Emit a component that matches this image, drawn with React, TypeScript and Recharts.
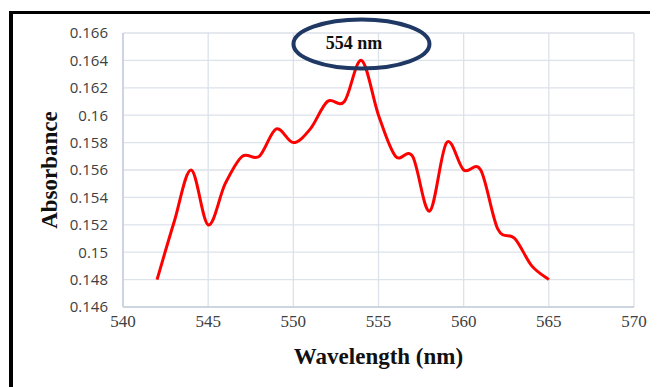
import { CartesianGrid, Label, Line, LineChart, ReferenceDot, XAxis, YAxis } from "recharts";

const wavelengths = [542, 543, 544, 545, 546, 547, 548, 549, 550, 551, 552, 553, 554, 555, 556, 557, 558, 559, 560, 561, 562, 563, 564, 565];
const absorbance = [0.148, 0.1522, 0.156, 0.152, 0.155, 0.157, 0.157, 0.159, 0.158, 0.159, 0.161, 0.161, 0.164, 0.16, 0.157, 0.157, 0.153, 0.158, 0.156, 0.156, 0.1517, 0.151, 0.149, 0.148];
const xTicks = [540, 545, 550, 555, 560, 565, 570];
const yTicks = [0.146, 0.148, 0.15, 0.152, 0.154, 0.156, 0.158, 0.16, 0.162, 0.164, 0.166];
const peakLabel = "554 nm";

const data = wavelengths.map((w, i) => ({ w, a: absorbance[i] }));

const SERIF = "'Liberation Serif', 'Times New Roman', serif";
const SANS = "'Open Sans', 'Noto Sans', sans-serif";

// Excel-style smoothed line (Catmull-Rom as cubic beziers)
const excelCurve = (context: any) => {
  let pts: number[][] = [];
  return {
    areaStart() {},
    areaEnd() {},
    lineStart() {
      pts = [];
    },
    point(x: number, y: number) {
      pts.push([+x, +y]);
    },
    lineEnd() {
      if (!pts.length) return;
      context.moveTo(pts[0][0], pts[0][1]);
      for (let i = 0; i < pts.length - 1; i++) {
        const p0 = pts[Math.max(i - 1, 0)];
        const p1 = pts[i];
        const p2 = pts[i + 1];
        const p3 = pts[Math.min(i + 2, pts.length - 1)];
        context.bezierCurveTo(
          p1[0] + (p2[0] - p0[0]) / 6,
          p1[1] + (p2[1] - p0[1]) / 6,
          p2[0] - (p3[0] - p1[0]) / 6,
          p2[1] - (p3[1] - p1[1]) / 6,
          p2[0],
          p2[1]
        );
      }
    },
  };
};

function PeakEllipse(props: any) {
  const { cx, cy } = props;
  return (
    <g>
      <ellipse cx={cx} cy={cy} rx={68} ry={24.5} fill="none" stroke="#1f3864" strokeWidth={4} />
      <text x={cx - 7.5} y={cy + 5.5} textAnchor="middle" fontFamily={SERIF} fontWeight="bold" fontSize={18} fill="#111">
        {peakLabel}
      </text>
    </g>
  );
}

export default function App() {
  return (
    <div style={{ position: "relative", width: 650, height: 379, overflow: "hidden" }}>
      <div
        style={{
          position: "absolute",
          top: 3,
          left: 1,
          width: 720,
          height: 460,
          borderLeft: "4px solid #000",
          borderTop: "3.5px solid #000",
        }}
      />
      <div style={{ position: "absolute", top: 0, left: 0 }}>
        <LineChart width={650} height={379} data={data} margin={{ top: 25, right: 24, left: 0, bottom: 0 }}>
          <CartesianGrid stroke="#dce2ea" strokeWidth={1.3} />
          <XAxis
            dataKey="w"
            type="number"
            domain={[540, 570]}
            ticks={xTicks}
            height={80}
            axisLine={{ stroke: "#c3cedb", strokeWidth: 1.5 }}
            tickLine={false}
            tickSize={0}
            tickMargin={0}
            tick={(p: any) => (
              <text x={p.x} y={p.y + 20} textAnchor="middle" fontFamily={SERIF} fontSize={17} fill="#404040">
                {p.payload.value}
              </text>
            )}
          >
            <Label
              content={(p: any) => {
                const vb = p.viewBox;
                return (
                  <text x={vb.x + vb.width / 2} y={356} textAnchor="middle" fontFamily={SERIF} fontWeight="bold" fontSize={23} fill="#111">
                    Wavelength (nm)
                  </text>
                );
              }}
            />
          </XAxis>
          <YAxis
            type="number"
            domain={[0.146, 0.166]}
            ticks={yTicks}
            width={115}
            axisLine={{ stroke: "#c3cedb", strokeWidth: 1.5 }}
            tickLine={false}
            tickSize={6}
            tickMargin={9}
            tickFormatter={(v: number) => String(v)}
            tick={{ fontSize: 15, fontFamily: SANS, fill: "#404040" }}
          >
            <Label
              content={(p: any) => {
                const vb = p.viewBox;
                const cy = vb.y + vb.height / 2;
                return (
                  <text x={49} y={cy} transform={`rotate(-90, 49, ${cy})`} textAnchor="middle" fontFamily={SERIF} fontWeight="bold" fontSize={23} fill="#111">
                    Absorbance
                  </text>
                );
              }}
            />
          </YAxis>
          <Line
            dataKey="a"
            type={excelCurve as any}
            stroke="#ff0000"
            strokeWidth={3}
            dot={false}
            activeDot={false}
            isAnimationActive={false}
          />
          <ReferenceDot x={554} y={0.1652} ifOverflow="visible" shape={(p: any) => <PeakEllipse {...p} />} />
        </LineChart>
      </div>
    </div>
  );
}
